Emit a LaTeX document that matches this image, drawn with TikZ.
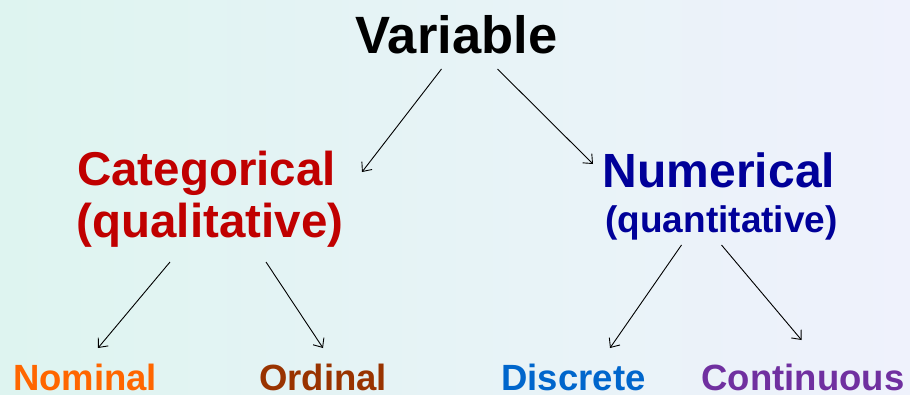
\documentclass[tikz,border=0pt]{standalone}
\usepackage{fontspec}
\setmainfont{Liberation Sans}
\usetikzlibrary{arrows.meta}
\definecolor{bgleft}{RGB}{222,244,240}
\definecolor{bgright}{RGB}{239,242,252}
\definecolor{catred}{HTML}{C00000}
\definecolor{numblue}{HTML}{000099}
\definecolor{nomorange}{HTML}{FF6600}
\definecolor{ordbrown}{HTML}{993300}
\definecolor{disblue}{HTML}{0066CC}
\definecolor{conpurple}{HTML}{7030A0}

\begin{document}
\begin{tikzpicture}[x=1pt,y=-1pt,
  point/.style={coordinate},
  word/.style={anchor=base, inner sep=0pt, font=\bfseries},
  branch/.style={draw=black, line width=0.9pt, -{Straight Barb[length=7.5pt,width=13pt]}}]
\shade[left color=bgleft, right color=bgright] (0,0) rectangle (910,394);
\useasboundingbox (0,0) rectangle (910,394);
\node[word] (var) at (456.5,53.5) {\fontsize{52.5}{60}\selectfont Variable};
\node[word, text=catred] (cat) at (206.5,185) {\fontsize{47.5}{54}\selectfont Categorical};
\node[word, text=catred] (qual) at (210,237) {\fontsize{47.5}{54}\selectfont (qualitative)};
\node[word, text=numblue] (num) at (719,187) {\fontsize{48}{54}\selectfont Numerical};
\node[word, text=numblue] (quan) at (721.5,232) {\fontsize{37}{44}\selectfont (quantitative)};
\node[word, text=nomorange] (nom) at (85,390) {\fontsize{36.5}{42}\selectfont Nominal};
\node[word, text=ordbrown] (ord) at (323,390) {\fontsize{36.5}{42}\selectfont Ordinal};
\node[word, text=disblue] (dis) at (573.5,390) {\fontsize{36.5}{42}\selectfont Discrete};
\node[word, text=conpurple] (con) at (803,390) {\fontsize{36.5}{42}\selectfont Continuous};
\node[point] (v1) at (441.5,69)  {};
\node[point] (v2) at (497.5,69)  {};
\node[point] (c0) at (362,172)  {};
\node[point] (n0) at (593,164)  {};
\node[point] (c1) at (170,262)  {};
\node[point] (c2) at (266,262)  {};
\node[point] (n1) at (681.5,245)  {};
\node[point] (n2) at (721.5,245)  {};
\node[point] (d1) at (98,348)  {};
\node[point] (d2) at (323,348)  {};
\node[point] (d3) at (610,348)  {};
\node[point] (d4) at (801.5,340)  {};
\draw[branch]   (v1) -- (c0);
\draw[branch]   (v2) -- (n0);
\draw[branch]   (c1) -- (d1);
\draw[branch]   (c2) -- (d2);
\draw[branch]   (n1) -- (d3);
\draw[branch]   (n2) -- (d4);
\end{tikzpicture}
\end{document}
